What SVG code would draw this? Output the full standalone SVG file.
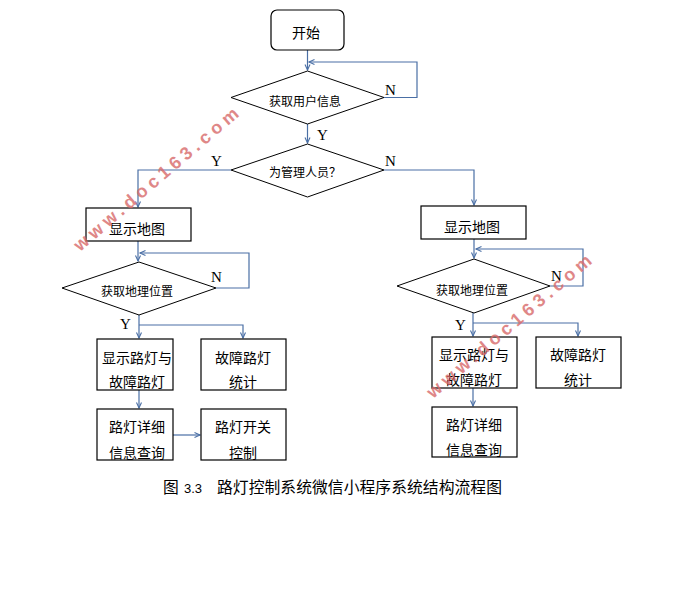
<svg xmlns="http://www.w3.org/2000/svg" width="682" height="593" viewBox="0 0 682 593">
<style>
.box{fill:#fff;stroke:#000;stroke-width:1.2}
.dia{fill:#fff;stroke:#000;stroke-width:1}
.ln{fill:none;stroke:#4a6fa5;stroke-width:1.2}
.t{font-family:"Noto Sans CJK SC",sans-serif;fill:#000;text-anchor:middle}
.t14{font-size:14px}
.t12{font-size:12px}
.yn{font-family:"Liberation Serif",serif;font-size:15px;fill:#000}
.cap{font-family:"Noto Sans CJK SC",sans-serif;font-size:15.8px;fill:#000}
.wm{font-family:"Liberation Sans",sans-serif;font-size:18px;font-weight:bold;fill:#d86a6a;opacity:0.8;letter-spacing:4.6px}
</style>
<defs>
<marker id="ar" markerWidth="8" markerHeight="8" refX="6" refY="3" orient="auto" markerUnits="userSpaceOnUse">
<path d="M0.5,0.5 L6,3 L0.5,5.5" fill="none" stroke="#4a6fa5" stroke-width="1.1"/>
</marker>
</defs>
<rect width="682" height="593" fill="#fff"/>

<g id="connectors">
<path class="ln" d="M307.5,50 V70" marker-end="url(#ar)"/>
<path class="ln" d="M384,97.5 H417 V62 H309" marker-end="url(#ar)"/>
<path class="ln" d="M307.5,124 V143" marker-end="url(#ar)"/>
<path class="ln" d="M231,170 H138 V207" marker-end="url(#ar)"/>
<path class="ln" d="M384,170 H474 V205" marker-end="url(#ar)"/>
<path class="ln" d="M138,241 V261" marker-end="url(#ar)"/>
<path class="ln" d="M216,288 H249 V253 H140" marker-end="url(#ar)"/>
<path class="ln" d="M474,239 V258" marker-end="url(#ar)"/>
<path class="ln" d="M550,286 H583 V249 H476" marker-end="url(#ar)"/>
<path class="ln" d="M139,315 V338" marker-end="url(#ar)"/>
<path class="ln" d="M139,325 H243 V338" marker-end="url(#ar)"/>
<path class="ln" d="M139,390 V408" marker-end="url(#ar)"/>
<path class="ln" d="M173,435 H200" marker-end="url(#ar)"/>
<path class="ln" d="M473,313 V336" marker-end="url(#ar)"/>
<path class="ln" d="M473,323 H578 V336" marker-end="url(#ar)"/>
<path class="ln" d="M473,388 V406" marker-end="url(#ar)"/>
</g>

<g id="start">
<rect class="box" x="271" y="10" width="73" height="40" rx="6"/>
<text class="t t14" x="306" y="38">开始</text>
</g>
<g id="getUser">
<polygon class="dia" points="231,97.5 307.5,71 384,97.5 307.5,124"/>
<text class="t t12" x="305" y="106">获取用户信息</text>
</g>
<g id="isAdmin">
<polygon class="dia" points="231,170 307.5,144 384,170 307.5,197"/>
<text class="t t12" x="305" y="177">为管理人员？</text>
</g>
<g id="mapL">
<rect class="box" x="86" y="208" width="105" height="33"/>
<text class="t t14" x="137" y="234">显示地图</text>
</g>
<g id="mapR">
<rect class="box" x="421" y="206" width="105" height="33"/>
<text class="t t14" x="472" y="232">显示地图</text>
</g>
<g id="locL">
<polygon class="dia" points="62,288 139,262 216,288 139,315"/>
<text class="t t12" x="137" y="296">获取地理位置</text>
</g>
<g id="locR">
<polygon class="dia" points="397,286 474,259 550,286 474,313"/>
<text class="t t12" x="472" y="295">获取地理位置</text>
</g>
<g id="showL">
<rect class="box" x="97" y="339" width="76" height="51"/>
<text class="t t14" x="137" y="363">显示路灯与</text>
<text class="t t14" x="137" y="387">故障路灯</text>
</g>
<g id="statL">
<rect class="box" x="201" y="339" width="85" height="51"/>
<text class="t t14" x="243" y="363">故障路灯</text>
<text class="t t14" x="243" y="387">统计</text>
</g>
<g id="detailL">
<rect class="box" x="97" y="409" width="76" height="51"/>
<text class="t t14" x="137" y="432">路灯详细</text>
<text class="t t14" x="137" y="458">信息查询</text>
</g>
<g id="switchL">
<rect class="box" x="201" y="409" width="85" height="51"/>
<text class="t t14" x="243" y="432">路灯开关</text>
<text class="t t14" x="243" y="458">控制</text>
</g>
<g id="showR">
<rect class="box" x="432" y="337" width="85" height="51"/>
<text class="t t14" x="474" y="360">显示路灯与</text>
<text class="t t14" x="474" y="385">故障路灯</text>
</g>
<g id="statR">
<rect class="box" x="536" y="337" width="85" height="51"/>
<text class="t t14" x="578" y="360">故障路灯</text>
<text class="t t14" x="578" y="385">统计</text>
</g>
<g id="detailR">
<rect class="box" x="432" y="407" width="85" height="50"/>
<text class="t t14" x="474" y="430">路灯详细</text>
<text class="t t14" x="474" y="455">信息查询</text>
</g>

<g id="labels">
<text class="yn" x="385" y="95">N</text>
<text class="yn" x="317" y="140">Y</text>
<text class="yn" x="385" y="166">N</text>
<text class="yn" x="211" y="166">Y</text>
<text class="yn" x="211" y="282">N</text>
<text class="yn" x="551" y="281">N</text>
<text class="yn" x="120" y="329">Y</text>
<text class="yn" x="455" y="330">Y</text>
</g>

<g id="caption">
<text class="cap" x="163" y="493">图</text>
<text x="184" y="493" style="font-family:'Liberation Sans',sans-serif;font-size:13px;fill:#000">3.3</text>
<text class="cap" x="217" y="493" textLength="285" lengthAdjust="spacing">路灯控制系统微信小程序系统结构流程图</text>
</g>

<g id="watermarks">
<text class="wm" x="80" y="252" transform="rotate(-40.5 80 252)">www.doc163.com</text>
<text class="wm" x="433" y="399" transform="rotate(-40.5 433 399)">www.doc163.com</text>
</g>
</svg>
